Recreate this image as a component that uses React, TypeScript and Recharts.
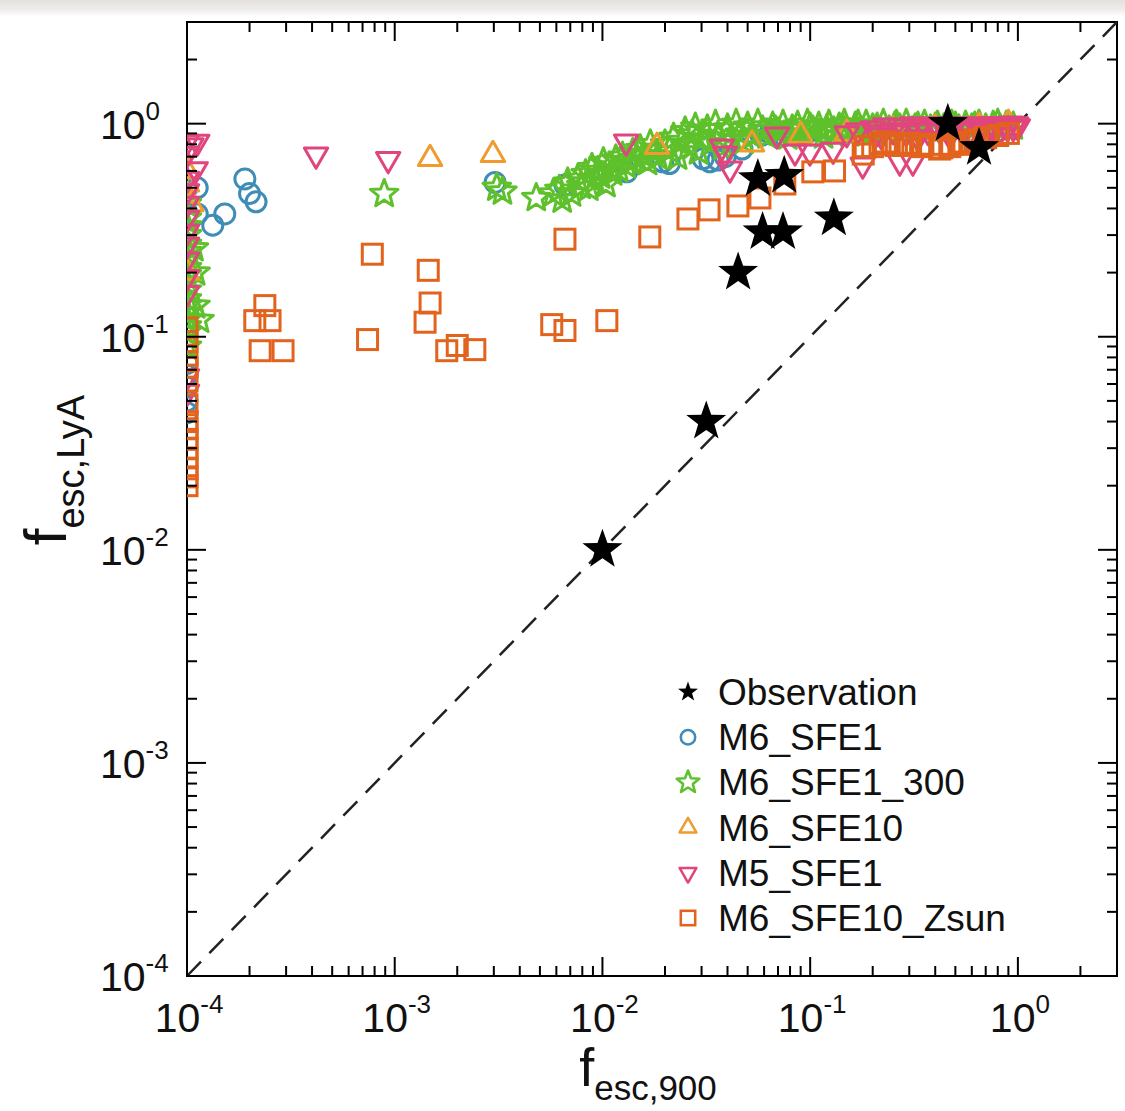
import React from 'react';
import { ScatterChart, Scatter, XAxis, YAxis, ReferenceLine, ReferenceArea } from 'recharts';

type Pt = [number, number];

// escape fractions: [f_esc,900, f_esc,LyA]
const observation: Pt[] = [
  [0.01, 0.01], [0.0316, 0.04], [0.045, 0.2], [0.059, 0.31], [0.074, 0.31],
  [0.056, 0.55], [0.075, 0.57], [0.13, 0.36], [0.46, 1.0], [0.65, 0.77],
];

const m6Sfe1: Pt[] = [
  [1e-4, 0.5], [1e-4, 0.38], [1.12e-4, 0.5], [1.12e-4, 0.377], [1.33e-4, 0.334], [1.52e-4, 0.377],
  [1.9e-4, 0.55], [2.0e-4, 0.47], [2.15e-4, 0.43], [1e-4, 0.075], [1e-4, 0.066], [1e-4, 0.058],
  [1e-4, 0.05], [1e-4, 0.044], [3.04e-3, 0.53], [6.6e-3, 0.515], [0.0131, 0.594], [0.0195, 0.662],
  [0.021, 0.65], [0.0305, 0.684], [0.0329, 0.662], [0.036, 0.675], [0.039, 0.7], [0.047, 0.76],
  [0.058, 0.88], [0.064, 0.9], [0.074, 0.88], [0.084, 0.92], [0.099, 0.92], [0.124, 0.94],
  [0.15, 0.93], [0.17, 0.94], [0.21, 0.95],
];

const m6Sfe1_300: Pt[] = [
  // clipped at the left edge
  [1e-4, 0.09], [1e-4, 0.105], [1e-4, 0.112], [1e-4, 0.12], [1e-4, 0.13], [1e-4, 0.14], [1e-4, 0.15],
  [1e-4, 0.165], [1e-4, 0.18], [1e-4, 0.195], [1e-4, 0.21], [1e-4, 0.23], [1e-4, 0.25], [1e-4, 0.27],
  [1e-4, 0.3], [1e-4, 0.33], [1e-4, 0.36], [1e-4, 0.42], [1.1e-4, 0.14], [1.1e-4, 0.2], [1.15e-4, 0.12],
  [1.08e-4, 0.26],
  // low-f900 runs
  [8.9e-4, 0.468], [3.1e-3, 0.5], [3.3e-3, 0.48], [4.8e-3, 0.448], [5.8e-3, 0.47], [6.4e-3, 0.44],
  // rising branch
  [0.0062, 0.49], [0.0068, 0.53], [0.0071, 0.47], [0.0076, 0.55], [0.0079, 0.51], [0.0083, 0.58],
  [0.0086, 0.5], [0.0089, 0.62], [0.0092, 0.54], [0.0095, 0.6], [0.0098, 0.57], [0.0101, 0.66],
  [0.0104, 0.52], [0.0108, 0.63], [0.0112, 0.59], [0.0116, 0.68], [0.012, 0.61], [0.0125, 0.7],
  [0.013, 0.64], [0.0135, 0.67], [0.014, 0.73], [0.0146, 0.69], [0.0152, 0.76], [0.0158, 0.71],
  [0.0165, 0.66], [0.017, 0.8], [0.0178, 0.74], [0.0185, 0.7],
  [0.02, 0.8], [0.021, 0.75], [0.022, 0.86], [0.023, 0.7], [0.024, 0.83], [0.025, 0.92], [0.026, 0.78],
  [0.027, 0.89], [0.028, 0.96], [0.029, 0.74], [0.03, 0.85], [0.032, 0.94], [0.033, 0.81], [0.035, 0.99],
  [0.036, 0.88], [0.038, 0.78], [0.04, 0.95], [0.042, 0.85], [0.044, 1.0], [0.046, 0.9], [0.048, 0.83],
  [0.05, 0.97], [0.053, 0.88], [0.056, 1.0], [0.059, 0.93],
  // plateau near unity
  [0.062, 0.88], [0.066, 0.97], [0.068, 0.93], [0.07, 0.91], [0.074, 0.99], [0.078, 0.87], [0.082, 0.94],
  [0.085, 0.9], [0.087, 0.98], [0.092, 0.9], [0.097, 1.0], [0.1, 0.96], [0.103, 0.93], [0.11, 0.97],
  [0.116, 0.88], [0.12, 0.94], [0.123, 0.99], [0.13, 0.92], [0.138, 0.96], [0.145, 0.93], [0.146, 1.0],
  [0.155, 0.9], [0.165, 0.97], [0.17, 0.99], [0.175, 0.93], [0.186, 0.99], [0.198, 0.91], [0.2, 0.95],
  [0.21, 0.96], [0.225, 1.0], [0.24, 0.93], [0.255, 0.97], [0.26, 0.99], [0.27, 0.95], [0.29, 1.0],
  [0.31, 0.92], [0.32, 0.95], [0.33, 0.97], [0.355, 0.99], [0.38, 0.94], [0.4, 0.96], [0.41, 0.98],
  [0.44, 0.95], [0.48, 0.99], [0.5, 0.97], [0.52, 0.94], [0.56, 0.98], [0.6, 0.95], [0.62, 0.97],
  [0.65, 0.99], [0.7, 0.95], [0.76, 0.98], [0.8, 1.0], [0.82, 0.95], [0.88, 0.98], [0.95, 0.97],
];

const m6Sfe10: Pt[] = [
  [1e-4, 0.6], [1e-4, 0.52], [1e-4, 0.46], [1.05e-4, 0.42], [1e-4, 0.2], [1.48e-3, 0.684],
  [2.97e-3, 0.714], [0.0183, 0.78], [0.0525, 0.8], [0.09, 0.88], [0.15, 0.9], [0.25, 0.93],
  [0.4, 0.95], [0.65, 0.97], [0.9, 1.0],
];

const m5Sfe1: Pt[] = [
  [1e-4, 0.82], [1.12e-4, 0.82], [1.05e-4, 0.79], [1e-4, 0.72], [1.1e-4, 0.61], [1e-4, 0.55],
  [1e-4, 0.48], [1e-4, 0.42], [1e-4, 0.36], [1e-4, 0.31], [1e-4, 0.27], [1e-4, 0.23], [1e-4, 0.19],
  [1e-4, 0.16], [1e-4, 0.065], [1e-4, 0.055],
  [4.18e-4, 0.714], [9.3e-4, 0.68], [0.013, 0.823], [0.0376, 0.78], [0.0389, 0.722], [0.0411, 0.614],
  [0.0692, 0.888], [0.0845, 0.738], [0.0998, 0.738], [0.129, 0.753], [0.179, 0.641], [0.27, 0.662],
  [0.312, 0.662],
  [0.15, 0.9], [0.17, 0.93], [0.22, 0.88], [0.33, 0.86], [0.47, 0.88], [0.58, 0.86], [0.72, 0.9],
  [0.2, 0.95], [0.21, 0.91], [0.23, 0.98], [0.25, 0.93], [0.27, 0.97], [0.29, 0.91], [0.31, 0.99],
  [0.33, 0.94], [0.35, 0.97], [0.37, 0.92], [0.4, 0.99], [0.42, 0.94], [0.44, 0.97], [0.47, 0.92],
  [0.5, 0.99], [0.53, 0.95], [0.56, 0.98], [0.59, 0.93], [0.62, 0.99], [0.65, 0.95], [0.68, 0.98],
  [0.71, 0.93], [0.74, 0.99], [0.77, 0.96], [0.8, 0.99], [0.83, 0.94], [0.86, 0.98], [0.89, 0.96],
  [0.92, 1.0], [0.95, 0.96], [0.98, 0.99], [1.0, 0.97],
];

const m6Sfe10Zsun: Pt[] = [
  [1e-4, 0.11], [1e-4, 0.095], [1e-4, 0.082], [1e-4, 0.072], [1e-4, 0.062], [1e-4, 0.048],
  [1e-4, 0.04], [1e-4, 0.037], [1e-4, 0.033], [1e-4, 0.03], [1e-4, 0.027], [1e-4, 0.024],
  [1e-4, 0.022], [1e-4, 0.02],
  [2.37e-4, 0.14], [2.12e-4, 0.119], [2.51e-4, 0.119], [2.25e-4, 0.086], [2.9e-4, 0.086],
  [7.4e-4, 0.097], [7.8e-4, 0.244], [1.45e-3, 0.205], [1.48e-3, 0.144], [1.4e-3, 0.117],
  [1.78e-3, 0.086], [2.0e-3, 0.091], [2.43e-3, 0.087], [5.7e-3, 0.114], [6.6e-3, 0.107],
  [0.0105, 0.119], [6.6e-3, 0.287], [0.0169, 0.294], [0.0258, 0.357], [0.0326, 0.394],
  [0.0449, 0.411], [0.0573, 0.448], [0.0755, 0.521], [0.103, 0.594], [0.131, 0.6],
  [0.18, 0.72], [0.184, 0.78], [0.2, 0.78], [0.217, 0.806], [0.23, 0.82], [0.25, 0.8], [0.26, 0.79],
  [0.292, 0.8], [0.3, 0.81], [0.34, 0.78], [0.349, 0.8], [0.38, 0.8], [0.42, 0.76], [0.43, 0.77],
  [0.47, 0.78], [0.48, 0.8], [0.52, 0.8], [0.55, 0.82], [0.62, 0.84], [0.7, 0.86], [0.8, 0.88], [0.9, 0.9],
];

const majorTicks = [1e-4, 1e-3, 1e-2, 1e-1, 1];
const tickExponents = ['-4', '-3', '-2', '-1', '0'];
const minorSteps = [2, 3, 4, 5, 6, 7, 8, 9];
const axisTicks = [
  ...majorTicks,
  ...majorTicks.slice(0, 4).flatMap((m) => minorSteps.map((s) => m * s)),
  2,
];

const PLOT = { left: 187, right: 1117, top: 22, bottom: 976 };
const FONT = '"Liberation Sans", Arial, Helvetica, sans-serif';

type Kind = 'filledStar' | 'circle' | 'star' | 'triUp' | 'triDown' | 'square';

const SERIES: { name: string; kind: Kind; color: string; data: Pt[] }[] = [
  { name: 'M6_SFE1', kind: 'circle', color: '#3f8db6', data: m6Sfe1 },
  { name: 'M6_SFE1_300', kind: 'star', color: '#5ec12b', data: m6Sfe1_300 },
  { name: 'M6_SFE10', kind: 'triUp', color: '#ef9b2d', data: m6Sfe10 },
  { name: 'M5_SFE1', kind: 'triDown', color: '#e0457e', data: m5Sfe1 },
  { name: 'M6_SFE10_Zsun', kind: 'square', color: '#e2631d', data: m6Sfe10Zsun },
];

const LEGEND: { name: string; kind: Kind; color: string }[] = [
  { name: 'Observation', kind: 'filledStar', color: '#000' },
  ...SERIES.map(({ name, kind, color }) => ({ name, kind, color })),
];

const starPath = (cx: number, cy: number, R: number, r: number) => {
  let d = '';
  for (let i = 0; i < 10; i++) {
    const rad = i % 2 === 0 ? R : r;
    const a = -Math.PI / 2 + (i * Math.PI) / 5;
    d += `${i === 0 ? 'M' : 'L'}${(cx + rad * Math.cos(a)).toFixed(2)},${(cy + rad * Math.sin(a)).toFixed(2)}`;
  }
  return d + 'Z';
};

const triPath = (cx: number, cy: number, s: number, up: boolean) => {
  const k = up ? 1 : -1;
  const h = s * 0.866;
  return `M${cx},${cy - k * s}L${cx + h},${cy + (k * s) / 2}L${cx - h},${cy + (k * s) / 2}Z`;
};

const Marker = ({ kind, cx, cy, color, scale = 1 }: { kind: Kind; cx: number; cy: number; color: string; scale?: number }) => {
  const sw = 3 * Math.max(scale, 0.85);
  switch (kind) {
    case 'filledStar':
      return <path d={starPath(cx, cy, 21 * scale, 8.5 * scale)} fill="#000" />;
    case 'circle':
      return <circle cx={cx} cy={cy} r={10 * scale} fill="none" stroke={color} strokeWidth={sw} />;
    case 'star':
      return <path d={starPath(cx, cy, 14.5 * scale, 6.2 * scale)} fill="none" stroke={color} strokeWidth={sw} strokeLinejoin="round" />;
    case 'triUp':
    case 'triDown':
      return <path d={triPath(cx, cy, 13.5 * scale, kind === 'triUp')} fill="none" stroke={color} strokeWidth={sw} strokeLinejoin="round" />;
    case 'square': {
      const h = 10 * scale;
      return <rect x={cx - h} y={cy - h} width={2 * h} height={2 * h} fill="none" stroke={color} strokeWidth={sw} />;
    }
  }
  return null;
};

const exponentOf = (v: number) => {
  const idx = majorTicks.indexOf(v);
  return idx >= 0 ? tickExponents[idx] : null;
};

const renderXTick = (props: any) => {
  const { x, payload } = props;
  const exp = exponentOf(payload.value);
  const len = exp ? 19 : 10;
  return (
    <g>
      <line x1={x} x2={x} y1={PLOT.bottom} y2={PLOT.bottom - len} stroke="#000" strokeWidth={2} />
      <line x1={x} x2={x} y1={PLOT.top} y2={PLOT.top + len} stroke="#000" strokeWidth={2} />
      {exp && (
        <text x={x + 2} y={PLOT.bottom + 56} textAnchor="middle" fontFamily={FONT} fontSize={41} fill="#111">
          10<tspan dy={-19} fontSize={26}>{exp}</tspan>
        </text>
      )}
    </g>
  );
};

const renderYTick = (props: any) => {
  const { y, payload } = props;
  const exp = exponentOf(payload.value);
  const len = exp ? 19 : 10;
  return (
    <g>
      <line x1={PLOT.left} x2={PLOT.left + len} y1={y} y2={y} stroke="#000" strokeWidth={2} />
      <line x1={PLOT.right} x2={PLOT.right - len} y1={y} y2={y} stroke="#000" strokeWidth={2} />
      {exp && (
        <text x={100} y={y + 15} textAnchor="start" fontFamily={FONT} fontSize={41} fill="#111">
          10<tspan dy={-19} fontSize={26}>{exp}</tspan>
        </text>
      )}
    </g>
  );
};

const toXY = (pts: Pt[]) => pts.map(([x, y]) => ({ x, y }));

export default function App() {
  return (
    <div style={{ position: 'absolute', left: 0, top: 0, width: 1125, height: 1111, background: '#fff' }}>
      <div
        style={{
          position: 'absolute', left: 0, top: 0, width: 1125, height: 16,
          background: 'linear-gradient(#e3e0dd, #efedeb 60%, #ffffff)',
        }}
      />
      <ScatterChart width={1125} height={1111} margin={{ top: 22, right: 8, bottom: 0, left: 0 }}>
        <XAxis
          type="number" dataKey="x" scale="log" domain={[1e-4, 3]} allowDataOverflow
          ticks={axisTicks} interval={0} tick={renderXTick} tickLine={false} tickSize={0} tickMargin={0}
          height={135} axisLine={{ stroke: '#000', strokeWidth: 2 }}
        />
        <YAxis
          type="number" dataKey="y" scale="log" domain={[1e-4, 3]} allowDataOverflow
          ticks={axisTicks} interval={0} tick={renderYTick} tickLine={false} tickSize={0} tickMargin={0}
          width={187} axisLine={{ stroke: '#000', strokeWidth: 2 }}
        />
        <ReferenceArea x1={1e-4} x2={3} y1={1e-4} y2={3} fill="none" fillOpacity={0} stroke="#000" strokeWidth={2} />
        <ReferenceLine
          segment={[{ x: 1e-4, y: 1e-4 }, { x: 3, y: 3 }]}
          stroke="#222" strokeWidth={2.5} strokeDasharray="20 12"
        />
        {SERIES.map((s) => (
          <Scatter
            key={s.name}
            name={s.name}
            data={toXY(s.data)}
            isAnimationActive={false}
            shape={(p: any) => <Marker kind={s.kind} cx={p.cx} cy={p.cy} color={s.color} />}
          />
        ))}
        <Scatter
          name="Observation"
          data={toXY(observation)}
          isAnimationActive={false}
          shape={(p: any) => <Marker kind="filledStar" cx={p.cx} cy={p.cy} color="#000" />}
        />
      </ScatterChart>

      {/* axis titles and legend */}
      <svg width={1125} height={1111} style={{ position: 'absolute', left: 0, top: 0, pointerEvents: 'none' }}>
        <text x={648} y={1086} textAnchor="middle" fontFamily={FONT} fill="#111">
          <tspan fontSize={54}>f</tspan>
          <tspan fontSize={35} dy={14}>esc,900</tspan>
        </text>
        <text x={66} y={470} transform="rotate(-90 66 470)" textAnchor="middle" fontFamily={FONT} fill="#111">
          <tspan fontSize={60}>f</tspan>
          <tspan fontSize={38} dy={18}>esc,LyA</tspan>
        </text>
        {LEGEND.map((item, i) => {
          const cy = 692 + i * 45.2;
          const iconScale = item.kind === 'filledStar' ? 0.5 : item.kind === 'star' ? 0.82 : 0.72;
          return (
            <g key={item.name}>
              <Marker kind={item.kind} cx={688} cy={cy} color={item.color} scale={iconScale} />
              <text x={718} y={cy + 13} fontFamily={FONT} fontSize={37} fill="#111">
                {item.name}
              </text>
            </g>
          );
        })}
      </svg>
    </div>
  );
}
